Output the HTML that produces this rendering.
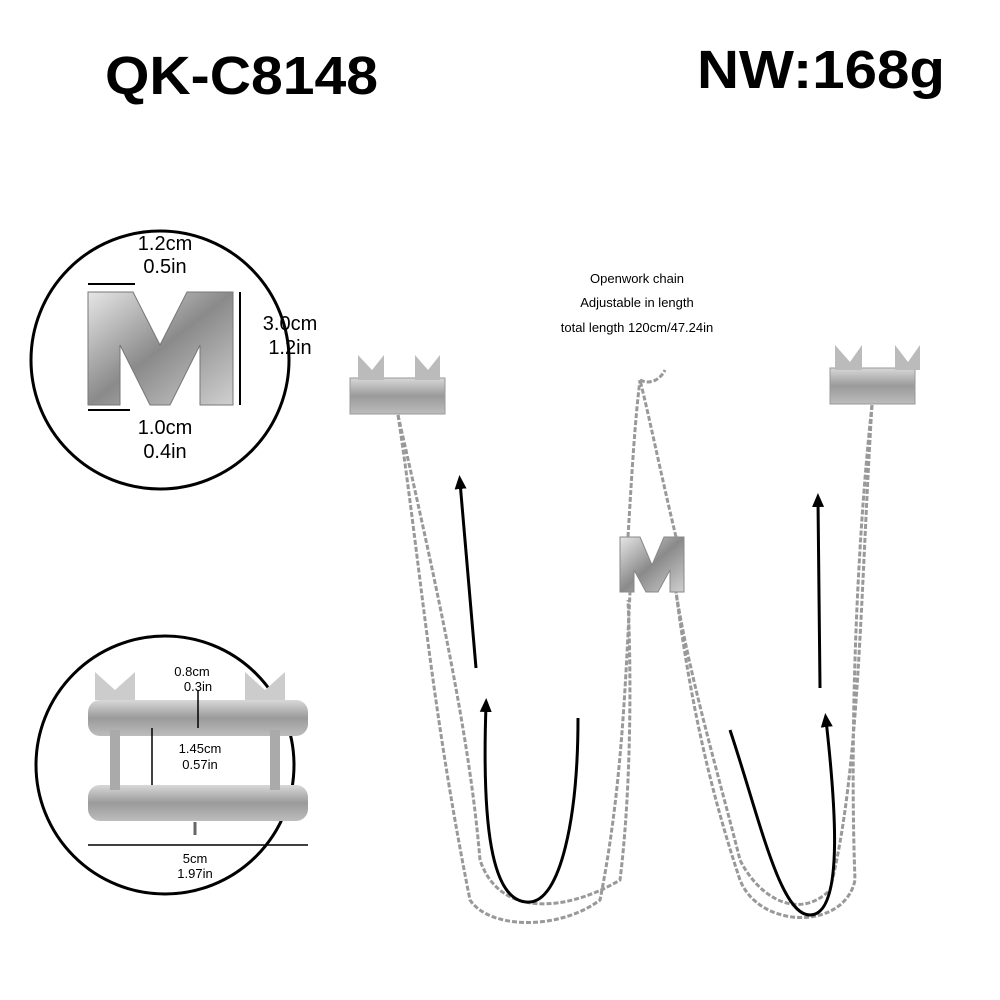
<!DOCTYPE html>
<html><head><meta charset="utf-8"><style>
html,body{margin:0;padding:0;background:#fff;}
svg{display:block;font-family:"Liberation Sans",sans-serif;}
</style></head><body>
<svg width="1000" height="1000" viewBox="0 0 1000 1000">
<defs>
<linearGradient id="met" x1="0" y1="0" x2="1" y2="1">
<stop offset="0" stop-color="#e6e6e6"/><stop offset="0.5" stop-color="#8a8a8a"/><stop offset="1" stop-color="#d0d0d0"/></linearGradient>
<linearGradient id="bar" x1="0" y1="0" x2="0" y2="1">
<stop offset="0" stop-color="#d8d8d8"/><stop offset="0.5" stop-color="#9a9a9a"/><stop offset="1" stop-color="#bdbdbd"/></linearGradient>
<marker id="ah" markerWidth="14" markerHeight="14" refX="7" refY="7" orient="auto" markerUnits="userSpaceOnUse">
<path d="M0,1 L14,7 L0,13 z" fill="#000"/></marker>
</defs>
<text x="105" y="94" font-size="54" font-weight="bold" textLength="273" lengthAdjust="spacingAndGlyphs">QK-C8148</text>
<text x="697" y="88" font-size="54" font-weight="bold" textLength="248" lengthAdjust="spacingAndGlyphs">NW:168g</text>

<!-- circle 1 -->
<circle cx="160" cy="360" r="129" fill="#fff" stroke="#000" stroke-width="3"/>
<path d="M88,292 L133,292 L160,345 L187,292 L233,292 L233,405 L200,405 L200,345 L170,405 L150,405 L120,345 L120,405 L88,405 z" fill="url(#met)" stroke="#777"/>
<line x1="88" y1="284" x2="135" y2="284" stroke="#000" stroke-width="2"/>
<line x1="240" y1="292" x2="240" y2="405" stroke="#000" stroke-width="2"/>
<line x1="88" y1="410" x2="130" y2="410" stroke="#000" stroke-width="2"/>
<text x="165" y="250" font-size="20" text-anchor="middle">1.2cm</text>
<text x="165" y="273" font-size="20" text-anchor="middle">0.5in</text>
<text x="290" y="330" font-size="20" text-anchor="middle">3.0cm</text>
<text x="290" y="354" font-size="20" text-anchor="middle">1.2in</text>
<text x="165" y="434" font-size="20" text-anchor="middle">1.0cm</text>
<text x="165" y="458" font-size="20" text-anchor="middle">0.4in</text>

<!-- circle 2 -->
<circle cx="165" cy="765" r="129" fill="#fff" stroke="#000" stroke-width="3"/>
<rect x="88" y="700" width="220" height="36" rx="12" fill="url(#bar)"/>
<rect x="88" y="785" width="220" height="36" rx="12" fill="url(#bar)"/>
<rect x="110" y="730" width="10" height="60" fill="#aaa"/>
<rect x="270" y="730" width="10" height="60" fill="#aaa"/>
<path d="M95,672 L115,690 L135,672 L135,700 L95,700 z" fill="#ccc"/>
<path d="M245,672 L265,690 L285,672 L285,700 L245,700 z" fill="#ccc"/>
<line x1="195" y1="822" x2="195" y2="835" stroke="#666" stroke-width="3"/>
<line x1="198" y1="690" x2="198" y2="728" stroke="#000" stroke-width="1.5"/>
<line x1="152" y1="728" x2="152" y2="785" stroke="#000" stroke-width="1.5"/>
<line x1="88" y1="845" x2="308" y2="845" stroke="#000" stroke-width="1.5"/>
<text x="192" y="676" font-size="13" text-anchor="middle">0.8cm</text>
<text x="198" y="691" font-size="13" text-anchor="middle">0.3in</text>
<text x="200" y="753" font-size="13" text-anchor="middle">1.45cm</text>
<text x="200" y="769" font-size="13" text-anchor="middle">0.57in</text>
<text x="195" y="863" font-size="13" text-anchor="middle">5cm</text>
<text x="195" y="878" font-size="13" text-anchor="middle">1.97in</text>

<!-- text -->
<text x="637" y="283" font-size="13" text-anchor="middle">Openwork chain</text>
<text x="637" y="307" font-size="13" text-anchor="middle">Adjustable in length</text>
<text x="637" y="332" font-size="13" text-anchor="middle">total length 120cm/47.24in</text>

<!-- clamps -->
<rect x="350" y="378" width="95" height="36" fill="url(#bar)" stroke="#999"/>
<path d="M358,355 L372,370 L384,355 L384,380 L358,380 z M415,355 L428,370 L440,355 L440,380 L415,380 z" fill="#bbb"/>
<rect x="830" y="368" width="85" height="36" fill="url(#bar)" stroke="#999"/>
<path d="M835,345 L850,362 L862,345 L862,370 L835,370 z M895,345 L908,362 L920,345 L920,370 L895,370 z" fill="#bbb"/>
<path d="M620,537 L640,537 L652,565 L664,537 L684,537 L684,592 L670,592 L670,570 L658,592 L646,592 L634,570 L634,592 L620,592 z" fill="url(#met)" stroke="#888"/>

<!-- chains -->
<g fill="none" stroke="#999" stroke-width="3" stroke-dasharray="5 2">
<path d="M398,415 C420,560 430,700 470,900 C490,930 560,930 600,900 C620,800 625,700 630,592"/>
<path d="M398,415 C440,600 470,740 480,860 C500,920 570,910 620,880 C630,800 632,690 628,600"/>
<path d="M872,405 C855,560 850,750 855,880 C845,930 760,930 740,880 C710,790 690,700 676,592"/>
<path d="M872,405 C860,600 860,770 830,890 C800,920 760,900 740,860 C720,780 690,680 676,592"/>
<path d="M628,537 C632,470 635,420 640,380 M676,537 C660,470 650,420 640,380"/>
<path d="M640,380 C650,385 660,380 665,370"/>
</g>

<!-- arrows -->
<g fill="none" stroke="#000" stroke-width="3">
<line x1="476" y1="668" x2="460" y2="482" marker-end="url(#ah)"/>
<path d="M578,718 C578,820 560,900 530,902 C490,905 482,820 486,705" marker-end="url(#ah)"/>
<line x1="820" y1="688" x2="818" y2="500" marker-end="url(#ah)"/>
<path d="M730,730 C760,820 780,915 810,915 C845,915 835,800 826,720" marker-end="url(#ah)"/>
</g>
</svg>
</body></html>
